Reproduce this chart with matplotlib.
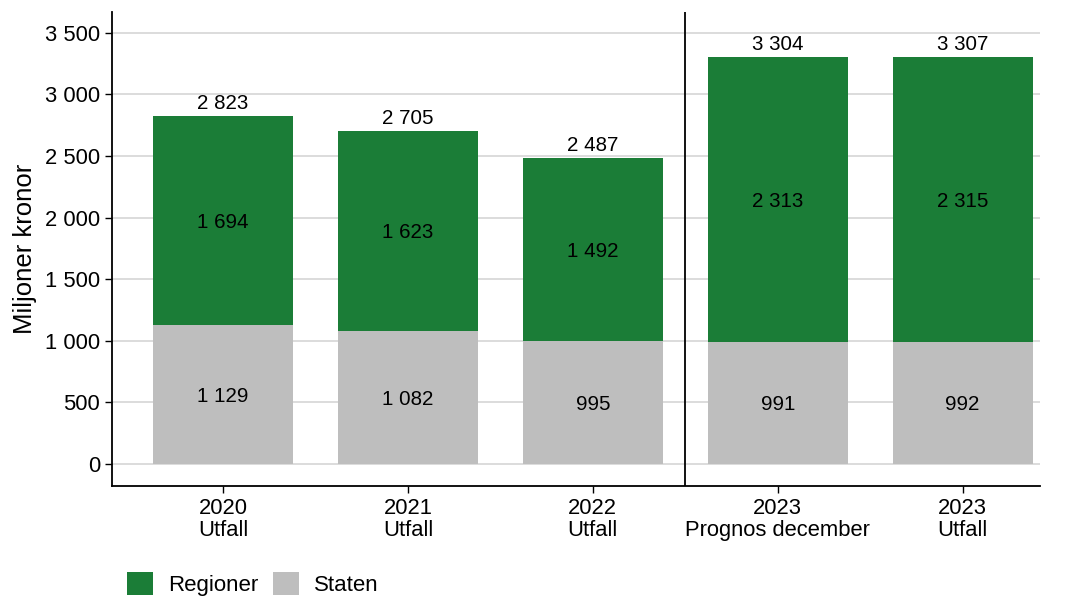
import numpy as np
import matplotlib.pyplot as plt

plt.rcParams['font.family'] = ['Liberation Sans', 'DejaVu Sans']

categories = ['2020\nUtfall', '2021\nUtfall', '2022\nUtfall', '2023\nPrognos december', '2023\nUtfall']
staten = [1129, 1082, 995, 991, 992]
regioner = [1694, 1623, 1492, 2313, 2315]
totals = [2823, 2705, 2487, 3304, 3307]

green = '#1b7d37'
grey = '#bebebe'


def fmt(v):
    return f'{v:,}'.replace(',', ' ')


fig = plt.figure(figsize=(10.67, 5.97), dpi=100)
ax = fig.add_axes([0.105, 0.186, 0.87, 0.794])

x = np.arange(len(categories))
w = 0.757
ax.bar(x, staten, width=w, color=grey, label='Staten', zorder=2)
ax.bar(x, regioner, width=w, bottom=staten, color=green, label='Regioner', zorder=2)

for i in range(len(x)):
    ax.text(x[i], staten[i] / 2 - 15, fmt(staten[i]), ha='center', va='center', fontsize=14.8, zorder=3)
    ax.text(x[i], staten[i] + regioner[i] / 2 - 15, fmt(regioner[i]), ha='center', va='center',
            fontsize=14.8, zorder=3)
    ax.text(x[i], totals[i] + 25, fmt(totals[i]), ha='center', va='bottom', fontsize=14.8, zorder=3)

ax.axvline(2.5, color='black', lw=1.3, zorder=3)

ax.set_xlim(-0.6, 4.42)
ax.set_ylim(-178, 3670)
yt = np.arange(0, 3501, 500)
ax.set_yticks(yt)
ax.set_yticklabels([fmt(v) for v in yt])
ax.set_xticks(x)
ax.set_xticklabels(categories, linespacing=1.05)
ax.tick_params(axis='both', labelsize=15.8, length=5, width=1, color='black')
ax.yaxis.grid(True, color='#d9d9d9', lw=1.3, zorder=0)
ax.set_axisbelow(True)
for s in ['top', 'right']:
    ax.spines[s].set_visible(False)
for s in ['left', 'bottom']:
    ax.spines[s].set_linewidth(1.3)
ax.set_ylabel('Miljoner kronor', fontsize=18.5, labelpad=6)

h, l = ax.get_legend_handles_labels()
fig.legend(h[::-1], l[::-1], loc='lower left', bbox_to_anchor=(0.1, -0.032), ncol=2,
           frameon=False, fontsize=16, handlelength=1.17, handleheight=1.17,
           columnspacing=0.68, handletextpad=0.68)

fig.savefig('out.png', dpi=100)
